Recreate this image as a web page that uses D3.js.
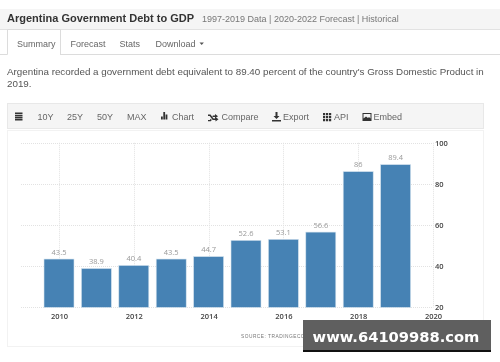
<!DOCTYPE html>
<html>
<head>
<meta charset="utf-8">
<script src="https://cdn.jsdelivr.net/npm/d3@7"></script>
<style>
  html, body { margin: 0; padding: 0; background: #fff; overflow: hidden; }
  svg { display: block; font-family: "Liberation Sans", Arial, sans-serif; filter: blur(0.45px); }
</style>
</head>
<body>
<svg id="page" width="500" height="362"></svg>
<script>
// chart values
let years = [2010, 2011, 2012, 2013, 2014, 2015, 2016, 2017, 2018, 2019];
let debt = [43.5, 38.9, 40.4, 43.5, 44.7, 52.6, 53.1, 56.6, 86, 89.4];
let yTicks = [20, 40, 60, 80, 100];
let xTicks = [2010, 2012, 2014, 2016, 2018, 2020];

let tabs = ["Summary", "Forecast", "Stats", "Download"];
let tabX = [17, 70.5, 119.5, 155.5];
let toolLabels = ["10Y", "25Y", "50Y", "MAX", "Chart", "Compare", "Export", "API", "Embed"];
let toolX = [37.5, 67, 97, 127, 172, 221.5, 283, 334, 373.5];

let svg = d3.select("#page");

// header band
svg.append("rect").attr("x", 0).attr("y", 9).attr("width", 500).attr("height", 20).attr("fill", "#f5f5f5");
svg.append("line").attr("x1", 0).attr("x2", 500).attr("y1", 29.5).attr("y2", 29.5).attr("stroke", "#e2e2e2");
svg.append("text").attr("x", 7).attr("y", 22).attr("font-size", 11).attr("font-weight", "bold")
  .attr("fill", "#333").text("Argentina Government Debt to GDP");
svg.append("text").attr("x", 202).attr("y", 21.5).attr("font-size", 9).attr("fill", "#777")
  .text("1997-2019 Data | 2020-2022 Forecast | Historical");

// tabs
svg.append("path").attr("fill", "none").attr("stroke", "#dcdcdc")
  .attr("d", "M0,54.5H7.5V29.5H60.5V55M60.5,54.5H500");
svg.append("g").selectAll("text").data(tabs).join("text")
  .attr("x", (d, i) => tabX[i])
  .attr("y", 46.5)
  .attr("font-size", 9)
  .attr("fill", "#666")
  .text(d => d);
svg.append("path").attr("fill", "#555").attr("d", "M199.500,42.500h4.400l-2.200,2.400z");

// summary paragraph
svg.append("text").attr("x", 7).attr("y", 74.5).attr("font-size", 9.8).attr("fill", "#555")
  .text("Argentina recorded a government debt equivalent to 89.40 percent of the country's Gross Domestic Product in");
svg.append("text").attr("x", 7).attr("y", 87).attr("font-size", 9.8).attr("fill", "#555").text("2019.");

// toolbar
svg.append("rect").attr("x", 7.5).attr("y", 103.5).attr("width", 476).attr("height", 25)
  .attr("fill", "#f5f5f5").attr("stroke", "#e8e8e8");
svg.append("g").selectAll("text").data(toolLabels).join("text")
  .attr("x", (d, i) => toolX[i])
  .attr("y", 120)
  .attr("font-size", 9)
  .attr("fill", "#666")
  .text(d => d);

// toolbar icons
let icons = svg.append("g").attr("fill", "#333");
icons.append("path").attr("d", "M15,112.500h7.500v1.800h-7.500zM15,115h7.500v1.500h-7.500zM15,117h7.500v1.500h-7.500zM15,119h7.500v1.500h-7.500z");
icons.append("path").attr("d", "M161,116.500h1.800v3h-1.800zM163.300,112h1.800v7.500h-1.800zM165.600,114.500h1.800v5h-1.800z");
icons.append("path").attr("d", "M208,114.500h2.500l3,4h2v-1.500l3,2.200-3,2.200v-1.500h-2.800l-3,-4h-1.700zM208,120h1.800l1,-1.300 1,1.300-1,1.300h-2.800zM213,115.500h2v-1.500l3,2.200-3,2.200v-1.500h-2l-.8,-.7z");
icons.append("path").attr("d", "M275.500,112h2v4h2l-3,3-3,-3h2zM272,120h9v1.500h-9z");
icons.append("path").attr("d", "M323,113h2.200v2.200h-2.200zM326,113h2.200v2.200h-2.200zM329,113h2.200v2.200h-2.200zM323,116h2.200v2.200h-2.200zM326,116h2.200v2.200h-2.200zM329,116h2.200v2.200h-2.200zM323,119h2.200v2.200h-2.200zM326,119h2.200v2.200h-2.200zM329,119h2.200v2.200h-2.200z");
icons.append("path").attr("fill-rule", "evenodd").attr("d", "M362.500,113h9v8h-9zM363.500,114v4.500l2.500,-2 2,1.500 1,-1 1.500,1.500v-4.500z");

// chart frame
svg.append("rect").attr("x", 7.5).attr("y", 130.5).attr("width", 476).attr("height", 216)
  .attr("fill", "#fff").attr("stroke", "#f2f2f2");

// scales
let x = d3.scaleLinear().domain([2010, 2020]).range([59, 433]);
let y = d3.scaleLinear().domain([20, 100]).range([307.4, 142.8]);
let barWidth = 30;

// grid
let grid = svg.append("g").attr("stroke", "#e2e2e2").attr("stroke-dasharray", "1,1");
grid.selectAll("line.h").data(yTicks).join("line").attr("class", "h")
  .attr("x1", 21).attr("x2", 433)
  .attr("y1", d => Math.round(y(d)) + 0.5)
  .attr("y2", d => Math.round(y(d)) + 0.5);
grid.selectAll("line.v").data(xTicks).join("line").attr("class", "v")
  .attr("y1", 142.8).attr("y2", 307.4)
  .attr("x1", d => Math.round(x(d)) + 0.5)
  .attr("x2", d => Math.round(x(d)) + 0.5);

// bars
svg.append("g").selectAll("rect").data(debt).join("rect")
  .attr("x", (d, i) => x(years[i]) - barWidth / 2)
  .attr("y", d => y(d))
  .attr("width", barWidth)
  .attr("height", d => y(20) - y(d))
  .attr("fill", "#4682b4")
  .attr("stroke", "#d5e3ee")
  .attr("stroke-width", 0.6);

// value labels
svg.append("g").selectAll("text").data(debt).join("text")
  .attr("x", (d, i) => x(years[i]))
  .attr("y", d => y(d) - 4.5)
  .attr("text-anchor", "middle")
  .attr("font-family", "'Open Sans', sans-serif")
  .attr("font-size", 7.5)
  .attr("fill", "#999")
  .text(d => d);

// axes
let xAxis = d3.axisBottom(x).tickValues(xTicks).tickFormat(d3.format("d")).tickSize(0).tickPadding(6.7);
let gx = svg.append("g").attr("transform", "translate(0,307.4)").call(xAxis);
gx.select(".domain").remove();
gx.selectAll("text").attr("font-family", "'Open Sans', sans-serif").attr("font-size", 7.5).attr("font-weight", 600).attr("fill", "#444");

let yAxis = d3.axisRight(y).tickValues(yTicks).tickSize(0).tickPadding(2);
let gy = svg.append("g").attr("transform", "translate(433,0)").call(yAxis);
gy.select(".domain").remove();
gy.selectAll("text").attr("font-family", "'Open Sans', sans-serif").attr("font-size", 7.5).attr("font-weight", 600).attr("fill", "#444");

// source line, runs under the banner like in the original
svg.append("text").attr("x", 241).attr("y", 338).attr("font-size", 4.8).attr("letter-spacing", 0.5)
  .attr("fill", "#777").text("SOURCE: TRADINGECONOMICS.COM");

// watermark banner
svg.append("rect").attr("x", 303).attr("y", 320).attr("width", 188).attr("height", 30).attr("fill", "#5f5f5f");
svg.append("rect").attr("x", 303).attr("y", 350).attr("width", 188).attr("height", 2).attr("fill", "#111");
svg.append("text").attr("x", 396).attr("y", 341.5).attr("text-anchor", "middle")
  .attr("font-family", "'DejaVu Sans', sans-serif").attr("font-weight", "bold").attr("font-size", 14.7)
  .attr("fill", "#fff").text("www.64109988.com");
</script>
</body>
</html>
